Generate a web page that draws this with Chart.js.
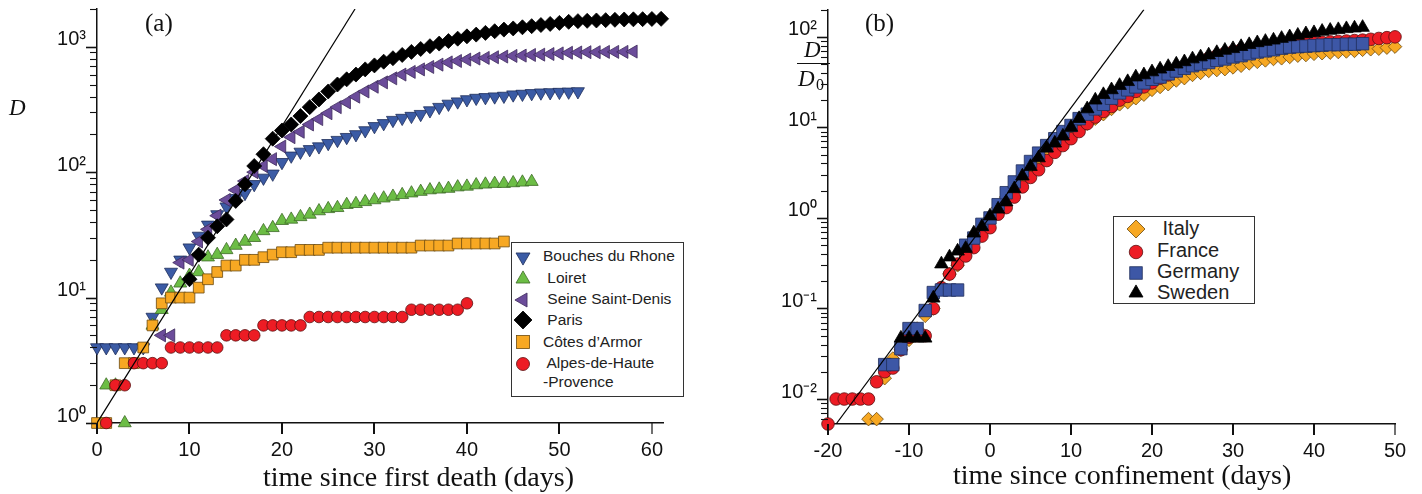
<!DOCTYPE html>
<html>
<head>
<meta charset="utf-8">
<title>Deaths since first death / since confinement</title>
<script src="https://cdn.jsdelivr.net/npm/chart.js@4.4.0/dist/chart.umd.min.js"></script>
<style>
  body { margin: 0; background: #fff; }
  #page { position: relative; width: 1422px; height: 494px; overflow: hidden; background: #fff; }
  canvas { position: absolute; top: 0; }
  .txt { position: absolute; white-space: pre; line-height: 1; color: #111; }
  .serif { font-family: 'Liberation Serif', 'Times New Roman', serif; }
  .sans { font-family: 'Liberation Sans', Arial, sans-serif; color: #222; }
  .box { position: absolute; border: 1.5px solid #333; background: #fff; box-sizing: border-box; }
  .mk { position: absolute; }
</style>
</head>
<body>
<div id="page">
  <canvas id="chartA" width="705" height="494" style="left:0"></canvas>
  <canvas id="chartB" width="717" height="494" style="left:705px"></canvas>

  <div class="txt serif" style="left:145px;top:10px;font-size:25px">(a)</div>
  <div class="txt serif" style="left:865px;top:10px;font-size:25px">(b)</div>

  <div class="txt serif" style="left:9px;top:96px;font-size:23px;font-style:italic">D</div>
  <div class="txt serif" style="left:804px;top:38px;font-size:23px;font-style:italic">D</div>
  <div style="position:absolute;left:797px;top:63px;width:33px;height:1.3px;background:#111"></div>
  <div class="txt serif" style="left:798px;top:67px;font-size:23px;font-style:italic">D</div>
  <div class="txt serif" style="left:816px;top:77px;font-size:16px">0</div>

  <div class="txt serif" style="left:263px;top:463px;font-size:28px">time since first death (days)</div>
  <div class="txt serif" style="left:953px;top:461px;font-size:28px">time since confinement (days)</div>

  <div class="box" style="left:511px;top:242px;width:173px;height:155px"></div>
  <div class="box" style="left:1113px;top:216px;width:142px;height:88px"></div>
  <div id="legends"></div>
</div>

<script>
// ---- panel (a): cumulative deaths D per département, day 0 = first death ----
const bouchesStart = 0;
const bouchesD = [4, 4, 4, 4, 4, 4, 7, 12, 16, 20, 25, 31, 38, 46, 53, 62, 68, 80, 90, 97,
  120, 135, 145, 152, 160, 170, 180, 190, 200, 215, 232, 245, 260, 270, 280, 290, 310, 330, 350, 365,
  380, 390, 395, 400, 405, 415, 420, 425, 430, 432, 435, 437, 440];

const loiretStart = 1;
const loiretD = [2, 2, 1, null, null, 6, 8, 11, 13, 15, 16, 21, 22, 24, 26, 28, 30, 34, 36, 41,
  42, 44, 46, 49, 51, 52, 55, 56, 58, 60, 62, 64, 66, 68, 70, 72, 73, 74, 76, 77,
  79, 80, 81, 81, 82, 83, 84];

const seineStart = 7;
const seineD = [5, 5, 19, 20, 28, 35, 45, 60, 72, 85, 100, 112, 127, 160, 190, 210, 240, 265, 295, 330,
  360, 400, 440, 480, 520, 560, 600, 630, 660, 690, 720, 750, 770, 790, 805, 815, 825, 835, 845, 850,
  860, 865, 875, 885, 895, 900, 905, 905, 910, 910, 910, 915];

const parisStart = 10;
const parisD = [14, 22, 30, 37, 42, 59, 80, 112, 139, 185, 215, 240, 280, 330, 380, 440, 500, 550, 600, 660,
  710, 760, 810, 860, 910, 960, 1010, 1060, 1110, 1160, 1210, 1250, 1290, 1330, 1370, 1400, 1430, 1460, 1490, 1520,
  1550, 1580, 1600, 1610, 1620, 1630, 1640, 1650, 1655, 1660, 1665, 1670];

const cotesStart = 0;
const cotesD = [1, 1, 2, 3, 3, 4, 6, 9, 10, 10, 10, 12, 14, 16, 18, 18, 20, 20, 21, 22,
  23, 23, 24, 24, 24, 25, 25, 25, 25, 25, 25, 25, 25, 25, 25, 26, 26, 26, 26, 27,
  27, 27, 27, 27, 28];

const alpesStart = 1;
const alpesD = [1, 2, 2, 3, 3, 3, 3, 4, 4, 4, 4, 4, 4, 5, 5, 5, 5, 6, 6, 6,
  6, 6, 7, 7, 7, 7, 7, 7, 7, 7, 7, 7, 7, 8, 8, 8, 8, 8, 8, 9];

const fitA_t = [0, 27.9];
const fitA_D = [1, 2000];

const xTicksA = [0, 10, 20, 30, 40, 50, 60];
const yMajorA = [1, 10, 100, 1000];
const yLabelA = ['10⁰', '10¹', '10²', '10³'];

// ---- panel (b): D / D0 per country, day 0 = confinement ----
const italyStart = -15;
const italyD = [0.006, 0.006, 0.017, 0.028, 0.035, 0.045, 0.06, 0.083, 0.1, 0.17,
  0.24, 0.3, 0.45, 0.6, 0.75, 1.0, 1.3, 1.7, 2.2, 2.8,
  3.4, 4.1, 5, 6, 7, 8.2, 9.5, 11, 12.5, 14,
  16, 18, 19, 21, 23, 26, 28, 30, 33, 35,
  38, 40, 42, 43, 44, 46, 48, 51, 53, 55,
  57, 58, 60, 62, 63, 65, 66, 67, 68, 69,
  70, 72, 73, 74, 76, 78];

const franceStart = -20;
const franceD = [0.0053, 0.01, 0.01, 0.01, 0.01, 0.01, 0.0155, 0.02, 0.022, 0.035,
  0.048, 0.05, 0.05, 0.1, 0.17, 0.24, 0.31, 0.38, 0.47, 0.63,
  0.78, 1.1, 1.3, 1.7, 2.2, 2.8, 3.4, 4.3, 5.3, 6.3,
  7.5, 9, 11, 13, 15, 17, 20, 22, 25, 28,
  31, 35, 38, 42, 46, 50, 54, 58, 62, 66,
  69, 72, 74, 76, 78, 80, 82, 83, 84, 85,
  86, 87, 88, 89, 90, 91, 92, 94, 96, 98, 100];

const germanyStart = -13;
const germanyD = [0.024, 0.024, 0.036, 0.06, 0.06, 0.095, 0.15, 0.16, 0.16, 0.16,
  0.5, 0.6, 0.85, 1.0, 1.4, 1.9, 2.5, 3.3, 4.2, 5.2,
  6.3, 7.5, 9, 10.5, 12.5, 14, 16, 18, 21, 24,
  26, 28, 31, 34, 36, 39, 42, 45, 48, 50,
  52, 55, 57, 60, 62, 65, 68, 70, 72, 75,
  77, 78, 79, 80, 81, 82, 82, 83, 83, 84];

const swedenStart = -11;
const swedenD = [0.047, 0.047, 0.047, 0.047, 0.13, 0.31, 0.37, 0.43, 0.46, 0.68,
  0.8, 1.05, 1.25, 1.5, 2.1, 2.9, 3.7, 4.6, 5.9, 6.7,
  8, 10, 12.5, 16, 20, 23, 26, 29, 32, 36,
  38, 41, 44, 47, 50, 53, 57, 60, 63, 67,
  71, 74, 78, 82, 86, 89, 92, 96, 100, 104,
  108, 111, 115, 118, 120, 123, 125, 127];

const fitB_t = [-19, 19];
const fitB_D = [0.0053, 200];

const xTicksB = [-20, -10, 0, 10, 20, 30, 40, 50];
const yMajorB = [0.01, 0.1, 1, 10, 100];
const yLabelB = ['10⁻²', '10⁻¹', '10⁰', '10¹', '10²'];

// ---- helpers ----
Chart.defaults.font.family = "'Liberation Sans', Arial, sans-serif";
Chart.defaults.color = '#111';

function pts(start, values) {
  const out = [];
  values.forEach((v, i) => { if (v !== null) out.push({ x: start + i, y: v }); });
  return out;
}

function marks(label, data, style, rot, r, fill, edge, order) {
  return {
    label, data, order, clip: false, showLine: false,
    pointStyle: style, pointRotation: rot, pointRadius: r, pointHoverRadius: r,
    pointBackgroundColor: fill, pointBorderColor: edge, pointBorderWidth: 0.8
  };
}

function fitLine(ts, ds) {
  return {
    label: 'fit', data: ts.map((t, i) => ({ x: t, y: ds[i] })), order: 0,
    showLine: true, pointRadius: 0, borderColor: '#000', borderWidth: 1.2, fill: false
  };
}

function isPow10(v) {
  const l = Math.log10(v);
  return Math.abs(l - Math.round(l)) < 1e-6;
}

function logTicks(min, max) {
  const out = [];
  for (let e = Math.floor(Math.log10(min)); e <= Math.floor(Math.log10(max)); e++) {
    for (let m = 1; m <= 9; m++) {
      const v = m * Math.pow(10, e);
      if (v >= min * 0.9999 && v <= max * 1.0001) out.push(v);
    }
  }
  return out;
}

function axisX(min, max, list) {
  return {
    type: 'linear', min, max,
    grid: { display: false, drawTicks: false },
    border: { display: true, color: '#111', width: 1.5 },
    ticks: { autoSkip: false, maxRotation: 0, padding: 15, font: { size: 20 } },
    afterBuildTicks: s => { s.ticks = list.map(v => ({ value: v })); },
    afterFit: s => { s.height = 50; s.paddingLeft = 0; s.paddingRight = 0; }
  };
}

function axisY(min, max, majors, labels, width) {
  return {
    type: 'logarithmic', min, max,
    grid: { display: false, drawTicks: false },
    border: { display: true, color: '#111', width: 1.5 },
    ticks: {
      autoSkip: false, padding: 11, labelOffset: -7, font: { size: 20 },
      callback: v => {
        const k = majors.findIndex(p => Math.abs(v - p) < p * 1e-6);
        return k >= 0 ? labels[k] : '';
      }
    },
    afterBuildTicks: s => { s.ticks = logTicks(min, max).map(v => ({ value: v })); },
    afterFit: s => { s.width = width; s.paddingTop = 0; s.paddingBottom = 0; }
  };
}

// short tick marks outside the axes, longer at the decades
const tickMarks = {
  id: 'tickMarks',
  afterDraw(chart) {
    const { ctx, chartArea: a, scales: { x, y } } = chart;
    ctx.save();
    ctx.strokeStyle = '#111';
    y.ticks.forEach(t => {
      const py = Math.round(y.getPixelForValue(t.value)) + 0.5;
      const major = isPow10(t.value);
      ctx.lineWidth = major ? 1.6 : 1.1;
      ctx.beginPath();
      ctx.moveTo(a.left - (major ? 11 : 7), py);
      ctx.lineTo(a.left, py);
      ctx.stroke();
    });
    x.ticks.forEach((t, i) => {
      const px = Math.round(x.getPixelForValue(t.value));
      ctx.lineWidth = i === x.ticks.length - 1 ? 1.2 : 2;
      ctx.beginPath();
      ctx.moveTo(px, a.bottom);
      ctx.lineTo(px, a.bottom + 11);
      ctx.stroke();
    });
    ctx.restore();
  }
};

const baseOptions = (padding, xs, ys) => ({
  responsive: false, animation: false, devicePixelRatio: 1,
  layout: { padding },
  plugins: { legend: { display: false }, tooltip: { enabled: false } },
  scales: { x: xs, y: ys }
});

// ---- chart (a) ----
new Chart(document.getElementById('chartA'), {
  type: 'scatter',
  data: {
    datasets: [
      marks('Bouches du Rhone', pts(bouchesStart, bouchesD), 'triangle', 180, 7.5, '#3b5ba5', '#1f2f5a', 6),
      marks('Loiret', pts(loiretStart, loiretD), 'triangle', 0, 7.5, '#6cbd45', '#3d6b27', 5),
      marks('Seine Saint-Denis', pts(seineStart, seineD), 'triangle', 270, 7.5, '#6b4c9a', '#3e2b5c', 4),
      marks('Paris', pts(parisStart, parisD), 'rectRot', 0, 7.5, '#000', '#000', 3),
      marks('Côtes d’Armor', pts(cotesStart, cotesD), 'rect', 0, 7.6, '#f7a823', '#6b4a10', 2),
      marks('Alpes-de-Haute-Provence', pts(alpesStart, alpesD), 'circle', 0, 5.8, '#ed1c24', '#5a1010', 1),
      fitLine(fitA_t, fitA_D)
    ]
  },
  options: baseOptions({ left: 0, top: 9, right: 42, bottom: 21 },
    axisX(0, 61.2, xTicksA), axisY(1, 2000, yMajorA, yLabelA, 97)),
  plugins: [tickMarks]
});

// ---- chart (b) ----
new Chart(document.getElementById('chartB'), {
  type: 'scatter',
  data: {
    datasets: [
      marks('Italy', pts(italyStart, italyD), 'rectRot', 0, 6.8, '#f7a823', '#6b4a10', 4),
      marks('France', pts(franceStart, franceD), 'circle', 0, 6.3, '#ed1c24', '#5a1010', 3),
      marks('Germany', pts(germanyStart, germanyD), 'rect', 0, 8.8, '#3d57a6', '#1f2d5a', 2),
      marks('Sweden', pts(swedenStart, swedenD), 'triangle', 0, 7.8, '#000', '#000', 1),
      fitLine(fitB_t, fitB_D)
    ]
  },
  options: baseOptions({ left: 0, top: 8, right: 27, bottom: 20 },
    axisX(-20, 50, xTicksB), axisY(0.0053, 200, yMajorB, yLabelB, 123)),
  plugins: [tickMarks]
});

// ---- legends (HTML, drawn over the plot areas) ----
function markerSvg(shape, fill, edge, size) {
  const h = size / 2;
  let body;
  if (shape === 'circle') body = `<circle cx="10" cy="10" r="${h}"/>`;
  else if (shape === 'rect') body = `<rect x="${10 - h}" y="${10 - h}" width="${size}" height="${size}"/>`;
  else if (shape === 'diamond') body = `<polygon points="${10 - h},10 10,${10 - h} ${10 + h},10 10,${10 + h}"/>`;
  else {
    const r = size / Math.sqrt(3);
    const rot = { up: 0, down: 180, left: 270 }[shape];
    const p = [0, 120, 240].map(d => {
      const th = (rot + d) * Math.PI / 180;
      return `${(10 + r * Math.sin(th)).toFixed(2)},${(10 - r * Math.cos(th)).toFixed(2)}`;
    });
    body = `<polygon points="${p.join(' ')}"/>`;
  }
  return `<svg width="20" height="20" viewBox="0 0 20 20"><g fill="${fill}" stroke="${edge}" stroke-width="0.8">${body}</g></svg>`;
}

const legendA = [
  { text: 'Bouches du Rhone', shape: 'down', fill: '#3b5ba5', edge: '#1f2f5a', size: 14, my: 257, ty: 256 },
  { text: ' Loiret', shape: 'up', fill: '#6cbd45', edge: '#3d6b27', size: 14, my: 279, ty: 277.5 },
  { text: ' Seine Saint-Denis', shape: 'left', fill: '#6b4c9a', edge: '#3e2b5c', size: 14, my: 300, ty: 298.5 },
  { text: ' Paris', shape: 'diamond', fill: '#000', edge: '#000', size: 18, my: 320, ty: 320 },
  { text: 'Côtes d’Armor', shape: 'rect', fill: '#f7a823', edge: '#6b4a10', size: 13, my: 341.5, ty: 341.5 },
  { text: ' Alpes-de-Haute\n-Provence', shape: 'circle', fill: '#ed1c24', edge: '#5a1010', size: 13, my: 363.5, ty: 363 }
];
const legendB = [
  { text: ' Italy', shape: 'diamond', fill: '#f7a823', edge: '#6b4a10', size: 18, my: 229, ty: 227.5 },
  { text: 'France', shape: 'circle', fill: '#ed1c24', edge: '#5a1010', size: 13.5, my: 251.5, ty: 249.5 },
  { text: 'Germany', shape: 'rect', fill: '#3d57a6', edge: '#1f2d5a', size: 12.5, my: 273, ty: 271 },
  { text: 'Sweden', shape: 'up', fill: '#000', edge: '#000', size: 14, my: 293, ty: 292 }
];

function buildLegend(items, mx, tx, fs, lh, capOff) {
  return items.map(it =>
    `<div class="mk" style="left:${mx - 10}px;top:${it.my - 10}px">${markerSvg(it.shape, it.fill, it.edge, it.size)}</div>` +
    `<div class="txt sans" style="left:${tx}px;top:${it.ty - capOff}px;font-size:${fs}px;line-height:${lh}px">${it.text}</div>`
  ).join('');
}

document.getElementById('legends').innerHTML =
  buildLegend(legendA, 523, 543, 15.5, 18.5, 9) +
  buildLegend(legendB, 1136, 1157, 20, 20, 9.8);
</script>
</body>
</html>
